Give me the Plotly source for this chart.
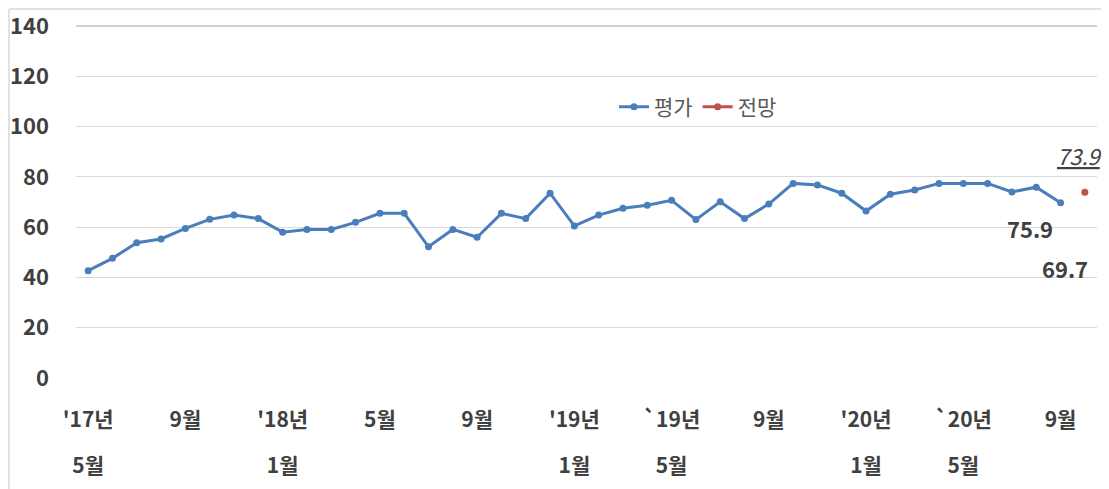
import plotly.graph_objects as go

# Categories: monthly from 2017-05 to 2020-10
months = [f"{y}-{m:02d}" for y in range(2017, 2021) for m in range(1, 13)]
months = months[months.index("2017-05"):months.index("2020-10") + 1]

# 평가 (evaluation) values, 2017-05 .. 2020-09
eval_months = months[:-1]
eval_values = [42.7, 47.6, 53.8, 55.3, 59.5, 63.1, 64.8, 63.4,
               58.0, 59.1, 59.1, 61.9, 65.5, 65.5, 52.2, 59.1, 56.0, 65.5, 63.4, 73.5,
               60.5, 64.8, 67.5, 68.7, 70.7, 63.0, 70.1, 63.4, 69.2, 77.4, 76.8, 73.5,
               66.4, 73.1, 74.8, 77.4, 77.4, 77.4, 74.0, 75.9, 69.7]

# 전망 (forecast)
fc_months = ["2020-10"]
fc_values = [73.9]

# Axis ticks
y_ticks = [0, 20, 40, 60, 80, 100, 120, 140]
row1_vals = ["2017-05", "2017-09", "2018-01", "2018-05", "2018-09", "2019-01",
             "2019-05", "2019-09", "2020-01", "2020-05", "2020-09"]
row1_text = ["'17년", "9월", "'18년", "5월", "9월", "'19년", "`19년", "9월", "'20년", "`20년", "9월"]
row2_vals = ["2017-05", "2018-01", "2019-01", "2019-05", "2020-01", "2020-05"]
row2_text = ["5월", "1월", "1월", "5월", "1월", "5월"]

FONT = "Noto Sans CJK KR"
BLUE = "#4A7EBB"
RED = "#C0504D"
TXT = "#404040"
GRID = "#D9D9D9"

# page has an 8px body margin; figure sized so plot area lands at px 76..1097 x 23..378
W, H = 1101, 481
L, T = 68, 15
PW, PH = 1021, 355
Y_TOP = 141.2  # small headroom so the 140 gridline is inside the plot area

fig = go.Figure()
fig.add_trace(go.Scatter(
    x=eval_months, y=eval_values, name="평가", mode="lines+markers",
    line=dict(color=BLUE, width=3), marker=dict(size=7, color=BLUE),
    xaxis="x", yaxis="y"))
fig.add_trace(go.Scatter(
    x=fc_months, y=fc_values, name="전망", mode="lines+markers",
    line=dict(color=RED, width=3), marker=dict(size=7, color=RED),
    xaxis="x2", yaxis="y"))

# Annotations
fig.add_annotation(x="2020-08", y=eval_values[-2], text="75.9", showarrow=False,
                   xshift=-6, yshift=-41,
                   font=dict(family=FONT, size=22, color=TXT, weight="bold"))
fig.add_annotation(x="2020-09", y=eval_values[-1], text="69.7", showarrow=False,
                   xshift=4, yshift=-65,
                   font=dict(family=FONT, size=22, color=TXT, weight="bold"))
fig.add_annotation(x="2020-10", y=fc_values[0], text="<i>73.9</i>", showarrow=False,
                   xshift=-5, yshift=37,
                   font=dict(family=FONT, size=22, color=TXT, lineposition="under"))

# Top gridline (at the highest y tick) drawn as a y-referenced shape
fig.add_shape(type="line", xref="paper", yref="y", x0=0, x1=1,
              y0=y_ticks[-1], y1=y_ticks[-1],
              line=dict(color="#C8C8C8", width=1.5), layer="above")

# Outer frame: top and left edges as paper lines
fig.add_shape(type="line", xref="paper", yref="paper",
              x0=(1 - L) / PW, x1=(W - L) / PW,
              y0=(T + PH - 1) / PH, y1=(T + PH - 1) / PH,
              line=dict(color=GRID, width=1.5), layer="above")
fig.add_shape(type="line", xref="paper", yref="paper",
              x0=(1 - L) / PW, x1=(1 - L) / PW,
              y0=-(H - T - PH) / PH, y1=(T + PH - 1) / PH,
              line=dict(color=GRID, width=1.5), layer="above")

axis_common = dict(type="category", categoryorder="array", categoryarray=months,
                   range=[-0.5, len(months) - 0.5], showgrid=False, zeroline=False,
                   showline=False, ticks="")

fig.update_layout(
    width=W, height=H,
    margin=dict(l=L, r=W - L - PW, t=T, b=H - T - PH, autoexpand=False),
    paper_bgcolor="white", plot_bgcolor="white",
    font=dict(family=FONT, color=TXT),
    xaxis=dict(**axis_common, tickmode="array", tickvals=row1_vals, ticktext=row1_text,
               tickfont=dict(family=FONT, size=21, color=TXT, weight="bold"),
               ticklabelstandoff=27, ticklabeloverflow="allow"),
    xaxis2=dict(**axis_common, overlaying="x", anchor="y", side="bottom",
                tickmode="array", tickvals=row2_vals, ticktext=row2_text,
                tickfont=dict(family=FONT, size=21, color=TXT, weight="bold"),
                ticklabelstandoff=73, ticklabeloverflow="allow"),
    yaxis=dict(range=[0, Y_TOP], tickmode="array", tickvals=y_ticks,
               showgrid=True, gridcolor=GRID, gridwidth=1,
               zeroline=False, showline=False, ticks="",
               tickfont=dict(family=FONT, size=22, color=TXT, weight="bold"),
               ticklabelstandoff=26, ticklabeloverflow="allow"),
    legend=dict(orientation="h", x=(614 - 76) / PW, xanchor="left",
                y=(378 - 107) / PH, yanchor="middle",
                font=dict(family=FONT, size=21, color="#595959"),
                bgcolor="rgba(0,0,0,0)"),
    showlegend=True,
)

fig.write_html("out.html")
